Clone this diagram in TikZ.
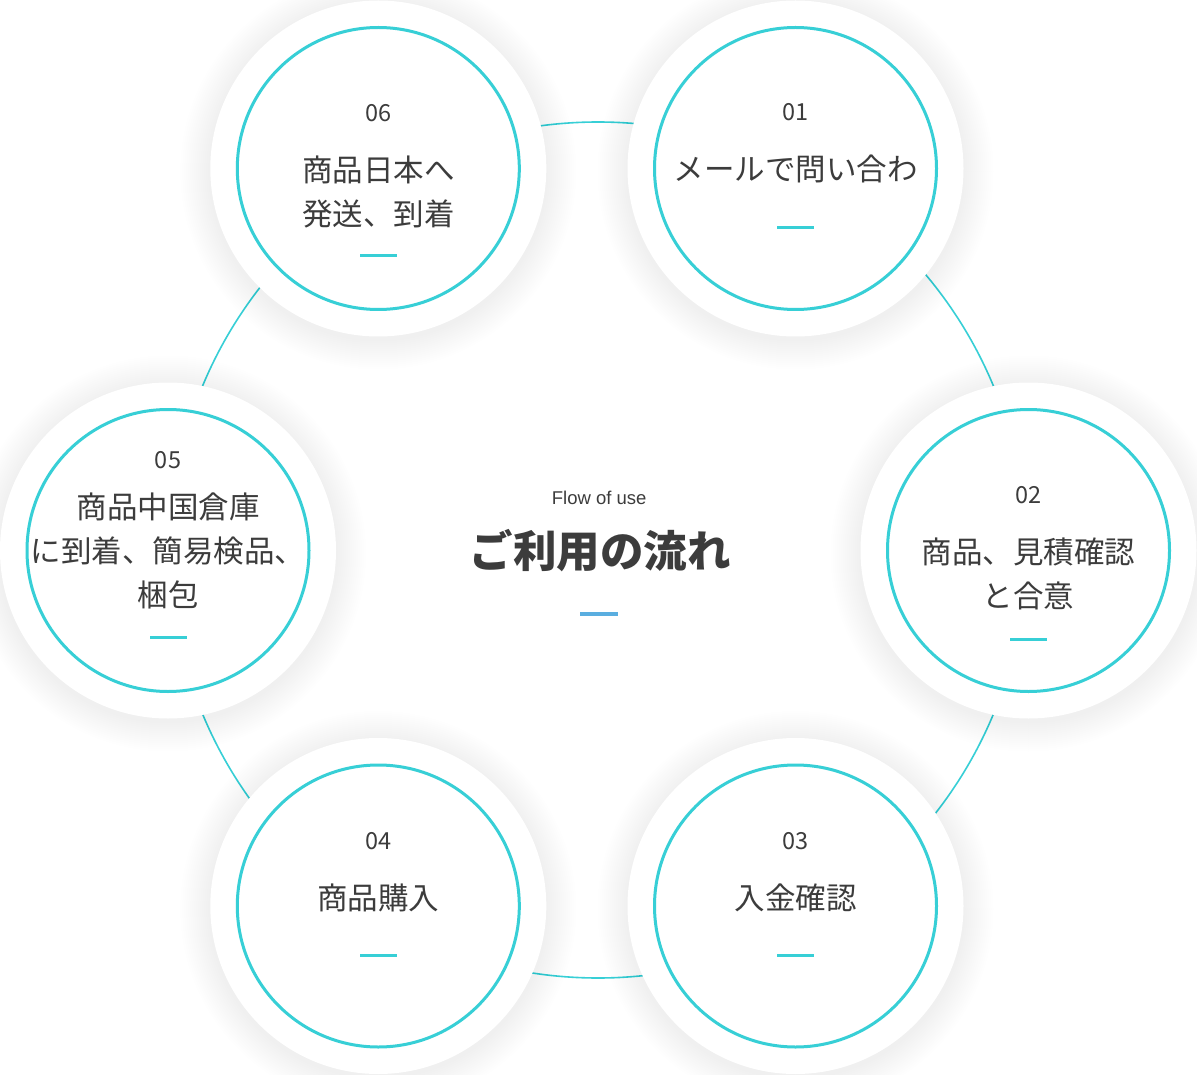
\documentclass[tikz,border=0pt]{standalone}
\usepackage{fontspec}
\setmainfont{Noto Sans CJK JP}
\newfontfamily\latinf{Liberation Sans}
\definecolor{teal1}{HTML}{37CFD6}
\definecolor{txt}{HTML}{3C3C3C}
\definecolor{bluebar}{HTML}{5AAEE0}
\tikzset{
  outer/.style={circle, fill=white, minimum size=336pt, inner sep=0pt},
  ring/.style={circle, draw=teal1, line width=3pt, minimum size=282pt, inner sep=0pt},
  num/.style={anchor=base, text=txt, inner sep=0pt, font=\fontsize{23.5}{28}\selectfont},
  lbl/.style={anchor=base, text=txt, inner sep=0pt, font=\fontsize{30.5}{36}\selectfont},
  tbar/.style={rectangle, fill=teal1, minimum width=37pt, minimum height=3.5pt, inner sep=0pt},
  bbar/.style={rectangle, fill=bluebar, minimum width=38pt, minimum height=3.5pt, inner sep=0pt},
  bigring/.style={draw=teal1, line width=1.6pt},
}
\begin{document}
\begin{tikzpicture}[x=1pt,y=-1pt]
\useasboundingbox (0,0) rectangle (1197,1075);
\fill[white] (0,0) rectangle (1197,1075);
\coordinate (c) at (598,550);
\draw[bigring] (c) circle (428);
% glows
\foreach \x/\y in {795.5/168.5, 1028.5/550.5, 795.5/906, 378.3/906, 168/550.5, 378.3/168.5}{
  \foreach \k in {1,...,15}{
    \fill[black, opacity=0.003] (\x,\y+3) circle ({168+2*\k});
  }
}
\foreach \n/\x/\y in {1/795.5/168.5, 2/1028.5/550.5, 3/795.5/906, 4/378.3/906, 5/168/550.5, 6/378.3/168.5}{
  \node[outer] (o\n) at (\x,\y) {};
  \node[ring] (s\n) at (\x,\y) {};
}
% 01
\node[num] (n1) at (795.5,120.5) {01};
\node[lbl] (t1) at (795.5,181) {メールで問い合わ};
\node[tbar] (b1) at (795.5,227.7) {};
% 02
\node[num] (n2) at (1028.5,503) {02};
\node[lbl] (t2a) at (1028.5,563.5) {商品、見積確認};
\node[lbl] (t2b) at (1028.5,607) {と合意};
\node[tbar] (b2) at (1028.5,639.5) {};
% 03
\node[num] (n3) at (795.5,849) {03};
\node[lbl] (t3) at (795.5,909.5) {入金確認};
\node[tbar] (b3) at (795.5,955.5) {};
% 04
\node[num] (n4) at (378.3,849.5) {04};
\node[lbl] (t4) at (378.3,909.5) {商品購入};
\node[tbar] (b4) at (378.3,955.5) {};
% 05
\node[num] (n5) at (168,468) {05};
\node[lbl] (t5a) at (168,518) {商品中国倉庫};
\node[lbl] (t5b) at (168,562) {に到着、簡易検品、};
\node[lbl] (t5c) at (168,606) {梱包};
\node[tbar] (b5) at (168,637.3) {};
% 06
\node[num] (n6) at (378.3,121.5) {06};
\node[lbl] (t6a) at (378.3,182) {商品日本へ};
\node[lbl] (t6b) at (378.3,226) {発送、到着};
\node[tbar] (b6) at (378.3,255.3) {};
% center
\node[anchor=base, text=txt, inner sep=0pt, font=\latinf\fontsize{18.5}{22}\selectfont] (flow) at (599.2,504) {Flow of use};
\node[anchor=base, text=txt, inner sep=0pt, font=\bfseries\fontsize{43.5}{50}\selectfont] (title) at (600,567) {ご利用の流れ};
\node[bbar] (cb) at (599,614) {};
\end{tikzpicture}
\end{document}
